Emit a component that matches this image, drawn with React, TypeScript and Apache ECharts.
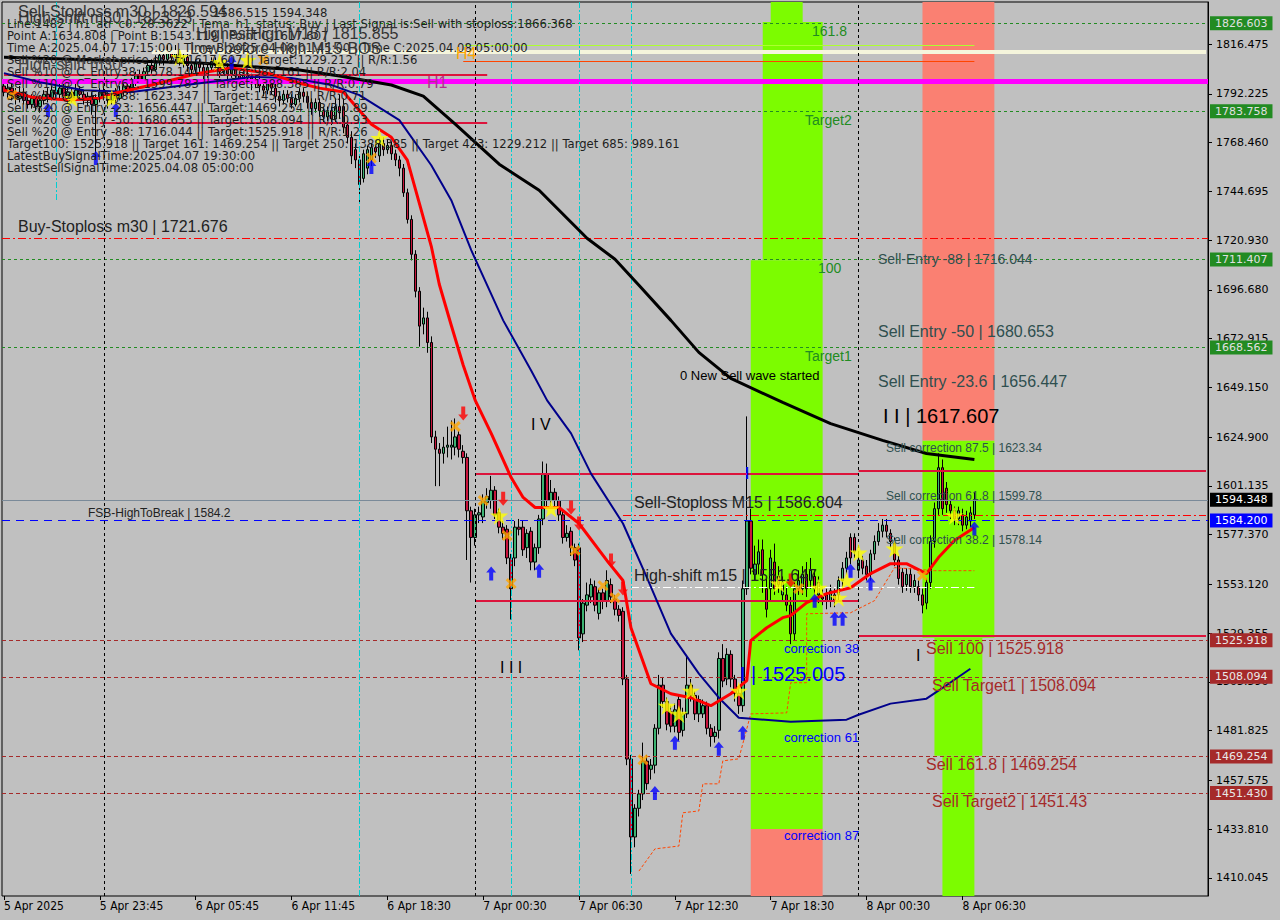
import React, { useEffect, useRef } from 'react';
import * as echarts from 'echarts';

const Y_MIN = 1401.24;
const Y_MAX = 1836.97;
const Y_TICKS = [1816.475, 1792.225, 1768.46, 1744.695, 1720.93, 1696.68, 1672.915, 1649.15, 1624.9, 1601.135, 1577.37, 1553.12, 1529.355, 1505.59, 1481.825, 1457.575, 1433.81, 1410.045];
const BAR_SLOTS = 302;
const X_TICK_INDEX = [0, 24, 48, 72, 96, 120, 144, 168, 192, 216, 240];
const X_TICK_LABELS = ['5 Apr 2025', '5 Apr 23:45', '6 Apr 05:45', '6 Apr 11:45', '6 Apr 18:30', '7 Apr 00:30', '7 Apr 06:30', '7 Apr 12:30', '7 Apr 18:30', '8 Apr 00:30', '8 Apr 06:30'];

// [open, close, low, high]
const CANDLES = [
[1796,1793,1791,1799],[1793,1795,1790,1798],[1795,1792,1789,1797],[1792,1790,1787,1795],[1790,1793,1788,1796],
[1793,1789,1787,1795],[1789,1787,1785,1792],[1787,1790,1785,1792],[1790,1786,1784,1791],[1786,1789,1783,1791],
[1789,1792,1787,1794],[1792,1790,1788,1795],[1790,1794,1789,1796],[1794,1792,1790,1797],[1792,1795,1790,1797],
[1795,1791,1789,1797],[1791,1793,1788,1796],[1793,1790,1788,1795],[1790,1794,1789,1797],[1794,1792,1790,1796],
[1792,1789,1787,1794],[1789,1791,1786,1793],[1791,1787,1782,1793],[1787,1790,1761,1792],[1790,1793,1788,1795],
[1793,1791,1789,1796],[1791,1789,1785,1793],[1789,1792,1787,1794],[1792,1790,1788,1795],[1790,1793,1789,1796],
[1793,1796,1791,1798],[1796,1794,1792,1799],[1794,1798,1793,1800],[1798,1801,1796,1803],[1801,1799,1797,1804],
[1799,1803,1798,1805],[1803,1806,1801,1808],[1806,1804,1802,1809],[1804,1808,1803,1811],[1808,1811,1806,1813],
[1811,1809,1806,1814],[1809,1813,1808,1816],[1813,1810,1807,1815],[1810,1812,1808,1816],[1812,1808,1806,1814],
[1808,1810,1805,1812],[1810,1806,1803,1812],[1806,1804,1801,1808],[1804,1807,1802,1809],[1807,1805,1802,1809],
[1805,1802,1799,1807],[1802,1805,1800,1807],[1805,1808,1803,1810],[1808,1806,1803,1810],[1806,1803,1800,1808],
[1803,1805,1801,1807],[1805,1802,1799,1807],[1802,1804,1800,1806],[1804,1801,1798,1806],[1801,1799,1796,1803],
[1799,1802,1797,1804],[1802,1800,1797,1804],[1800,1797,1794,1802],[1797,1799,1795,1801],[1799,1796,1793,1801],
[1796,1794,1791,1798],[1794,1797,1792,1799],[1797,1795,1792,1799],[1795,1791,1788,1797],[1791,1789,1786,1793],
[1789,1792,1787,1794],[1792,1790,1788,1794],[1790,1787,1785,1792],[1787,1790,1786,1792],[1790,1793,1788,1795],
[1793,1791,1788,1795],[1791,1788,1785,1793],[1788,1785,1782,1790],[1785,1788,1783,1790],[1788,1784,1781,1790],
[1784,1781,1778,1786],[1781,1784,1779,1786],[1784,1780,1777,1786],[1780,1786,1778,1790],[1786,1783,1780,1792],
[1786,1776,1773,1790],[1777,1771,1768,1779],[1771,1762,1758,1774],[1765,1760,1756,1768],[1760,1748,1739,1762],
[1751,1763,1749,1765],[1756,1765,1753,1767],[1760,1766,1757,1768],[1766,1764,1761,1769],[1762,1768,1759,1771],
[1768,1765,1762,1771],[1765,1767,1763,1770],[1767,1763,1760,1769],[1763,1760,1757,1765],[1760,1756,1752,1762],
[1756,1744,1742,1758],[1744,1731,1729,1746],[1731,1714,1711,1733],[1714,1696,1693,1716],[1696,1679,1669,1698],
[1680,1683,1675,1688],[1683,1671,1666,1686],[1671,1625,1622,1674],[1625,1619,1601,1628],[1619,1617,1601,1622],
[1617,1620,1612,1625],[1620,1621,1615,1630],[1620,1621,1614,1633],[1620,1625,1616,1634],[1626,1619,1615,1628],
[1618,1615,1612,1621],[1615,1589,1565,1617],[1589,1576,1554,1591],[1576,1587,1572,1590],[1587,1588,1583,1591],
[1586,1594,1583,1597],[1593,1596,1590,1600],[1594,1599,1590,1606],[1599,1587,1585,1601],[1588,1581,1578,1590],
[1581,1578,1575,1584],[1580,1566,1563,1582],[1566,1551,1536,1568],[1566,1581,1562,1584],[1581,1580,1577,1585],
[1581,1570,1567,1584],[1571,1578,1566,1580],[1579,1564,1560,1581],[1564,1571,1560,1573],[1571,1585,1568,1587],
[1585,1607,1582,1613],[1607,1594,1590,1612],[1594,1598,1590,1604],[1598,1594,1590,1600],[1594,1587,1584,1596],
[1587,1576,1573,1589],[1576,1578,1574,1582],[1579,1571,1567,1581],[1571,1565,1562,1573],[1571,1527,1521,1573],
[1529,1544,1525,1546],[1543,1548,1540,1554],[1547,1553,1544,1556],[1552,1543,1540,1555],[1539,1549,1536,1551],
[1549,1545,1541,1551],[1545,1555,1542,1560],[1553,1547,1544,1556],[1546,1541,1538,1548],[1541,1538,1535,1543],
[1540,1507,1504,1542],[1507,1468,1465,1509],[1468,1430,1412,1470],[1430,1444,1425,1446],[1444,1451,1440,1453],
[1451,1467,1448,1476],[1467,1456,1453,1470],[1463,1465,1458,1468],[1465,1483,1461,1485],[1483,1504,1480,1509],
[1504,1496,1493,1508],[1496,1485,1482,1498],[1491,1484,1481,1494],[1484,1492,1481,1495],[1497,1481,1477,1499],
[1482,1490,1479,1493],[1490,1504,1488,1518],[1504,1499,1496,1507],[1499,1490,1487,1501],[1490,1497,1486,1499],
[1490,1494,1488,1497],[1494,1483,1480,1496],[1483,1479,1474,1485],[1479,1481,1476,1484],[1482,1517,1478,1520],
[1517,1506,1503,1524],[1507,1519,1504,1522],[1519,1507,1503,1521],[1507,1500,1496,1509],[1500,1494,1490,1502],
[1494,1551,1491,1555],[1551,1584,1548,1635],[1584,1561,1558,1590],[1558,1563,1555,1572],[1563,1569,1558,1575],
[1570,1558,1549,1575],[1551,1541,1537,1556],[1551,1566,1545,1570],[1564,1551,1548,1573],[1557,1553,1549,1562],
[1548,1554,1545,1557],[1548,1543,1540,1552],[1543,1529,1524,1547],[1529,1551,1526,1554],[1551,1555,1548,1560],
[1551,1558,1548,1562],[1558,1551,1547,1564],[1555,1560,1551,1566],[1557,1551,1548,1560],[1548,1554,1544,1557],
[1547,1546,1543,1551],[1548,1545,1541,1551],[1545,1550,1542,1553],[1548,1545,1542,1551],[1548,1555,1545,1557],
[1555,1561,1552,1564],[1561,1566,1558,1569],[1576,1566,1563,1578],[1576,1569,1566,1578],[1560,1565,1557,1568],
[1565,1561,1558,1567],[1562,1558,1555,1565],[1558,1568,1555,1570],[1568,1574,1565,1577],[1574,1579,1572,1583],
[1579,1582,1576,1585],[1582,1579,1576,1585],[1578,1574,1571,1580],[1573,1565,1562,1576],[1565,1556,1553,1567],
[1559,1552,1549,1561],[1553,1558,1550,1561],[1558,1552,1549,1561],[1552,1555,1549,1558],[1552,1548,1545,1555],
[1548,1543,1539,1551],[1544,1554,1541,1556],[1554,1574,1551,1577],[1574,1590,1571,1593],[1590,1610,1587,1617],
[1610,1590,1587,1614],[1600,1592,1588,1603],[1592,1589,1585,1594],[1589,1585,1582,1591],[1585,1589,1582,1591],
[1587,1582,1579,1590],[1582,1586,1580,1589],[1584,1588,1581,1591],[1587,1594.348,1585,1598]
];

const RED_MA = [[0,1794.0],[7,1790.6],[16,1789.2],[24,1790.1],[28,1792.6],[37,1796.5],[49,1802.3],[57,1804.8],[66,1802.3],[74,1797.4],[79,1795.0],[85,1793.1],[92,1777.4],[97,1771.0],[101,1759.9],[104,1738.9],[107,1717.9],[109,1699.4],[112,1679.4],[115,1659.9],[118,1642.8],[122,1626.7],[127,1605.2],[130,1595.5],[133,1590.6],[139,1590.6],[144,1582.8],[151,1564.7],[155,1555.0],[157,1532.0],[162,1504.7],[167,1499.8],[172,1497.9],[177,1494.0],[182,1499.8],[186,1506.2],[187,1525.7],[191,1532.0],[195,1536.9],[197,1537.9],[201,1544.2],[206,1548.6],[212,1551.5],[217,1558.4],[222,1563.2],[226,1563.2],[231,1558.4],[234,1566.2],[238,1574.5],[243,1580.8]];
const NAVY_MA = [[0,1802.3],[9,1797.9],[20,1794.0],[32,1793.1],[49,1797.4],[62,1800.4],[72,1799.9],[82,1796.5],[89,1791.6],[99,1779.4],[107,1757.4],[112,1740.4],[117,1716.0],[125,1681.8],[132,1657.4],[136,1642.8],[142,1626.7],[147,1607.1],[155,1582.8],[161,1556.4],[167,1529.1],[174,1509.6],[179,1497.9],[184,1488.1],[197,1486.2],[211,1487.2],[214,1489.6],[222,1495.0],[231,1497.4],[234,1501.3],[242,1512.0]];
const BLACK_MA = [[0,1810.1],[24,1808.7],[49,1807.2],[74,1803.8],[84,1800.9],[97,1796.5],[105,1791.1],[113,1777.4],[124,1757.9],[134,1745.2],[146,1721.8],[153,1711.6],[159,1698.9],[167,1681.8],[174,1666.2],[182,1653.5],[195,1641.8],[207,1631.5],[220,1623.3],[231,1616.9],[243,1614.0]];
const ORANGE_TRAIL = [[159,1413.4],[163,1424.2],[169,1425.6],[170,1441.8],[174,1442.7],[175,1455.9],[179,1455.9],[180,1467.1],[184,1468.1],[187,1490.0],[196,1490.5],[197,1505.2],[201,1505.2],[201,1538.8],[212,1539.3],[218,1545.2],[223,1561.3],[233,1559.8],[243,1559.8]];

const STARS = [[17,1790.1],[27,1790.1],[44,1810.1],[54,1807.7],[61,1808.7],[94,1770.6],[124,1586.6],[137,1590.1],[166,1493.9],[169,1490.0],[172,1501.3],[184,1501.3],[194,1553.5],[204,1551.5],[209,1546.6],[211,1555.0],[214,1568.6],[223,1570.6],[238,1586.6]];
const CROSSES = [[2,1791.6],[65,1808.7],[92,1760.9],[113,1630.1],[120,1594.0],[126,1576.9],[127,1553.5],[143,1569.6],[150,1552.5],[153,1546.6],[160,1467.6],[199,1551.1],[230,1557.4]];
const UP_ARROWS = [[11,1784.3],[23,1760.9],[28,1784.3],[57,1807.2],[92,1756.5],[122,1558.4],[134,1559.8],[163,1451.5],[168,1475.9],[179,1473.0],[185,1480.8],[203,1545.2],[208,1536.4],[210,1536.4],[212,1559.8],[217,1553.5],[243,1580.3]];
const DOWN_ARROWS = [[115,1636.4],[125,1594.9],[142,1590.6],[144,1582.8],[152,1564.7],[155,1551.1],[197,1555.0]];

const GREEN_LEVELS = [1826.603, 1783.758, 1711.407, 1668.562];
const TARGET_LEVELS = [1525.918, 1508.094, 1469.254, 1451.43];
const CURRENT_PRICE = 1594.348;
const FSB_LEVEL = 1584.2;
const BUY_STOPLOSS_M30 = 1721.676;
const SELL_STOPLOSS_M15 = 1586.804;
const HIGH_SHIFT_M15 = 1551.647;
const MAGENTA_LEVEL = 1798.4;
// [fromBar, toBar, price]
const RED_SEGMENTS = [[0,121,1801.4],[24,121,1777.9],[118,214,1607.1],[214,301,1608.6],[118,214,1545.2],[214,301,1528.1]];
const CREAM_SEGMENT = [37, 301, 1812.6];
const HIGHEST_HIGH_SEGMENT = [115, 243, 1815.855];
const ORANGE_SEGMENT = [115, 243, 1808.2];
const DAY_SEPARATORS = [25, 118, 214];
const CYAN_MARKERS = [89, 127, 144, 157];
// [fromBar, toBar, top, bottom]
const GREEN_ZONES = [[192,200,1836.97,1827.2],[190,205,1827.2,1711.1],[187,205,1711.1,1433.9],[230,248,1623.3,1527.1],[233,245,1527.1,1469.6],[235,243,1469.6,1401.24]];
const SALMON_ZONES = [[187,205,1433.9,1401.24],[230,248,1836.97,1623.3]];

const COMMENT_LINES = [
  'Line:1482 | h1_atr_c0: 28.3622 | Tema_h1_status: Buy | Last Signal is:Sell with stoploss:1866.368',
  'Point A:1634.808 | Point B:1543.119 | Point C:1617.607',
  'Time A:2025.04.07 17:15:00 | Time B:2025.04.08 01:45:00 | Time C:2025.04.08 05:00:00',
  'Sell %20 @ Market price or at: 1617.607 || Target:1229.212 || R/R:1.56',
  'Sell %10 @ C_Entry38: 1578.144 || Target:989.161 || R/R:2.04',
  'Sell %10 @ C_Entry61: 1599.783 || Target:1388.385 || R/R:0.79',
  'Sell %10 @ C_Entry88: 1623.347 || Target:1451.43 || R/R:0.71',
  'Sell %20 @ Entry -23: 1656.447 || Target:1469.254 || R/R:0.89',
  'Sell %20 @ Entry -50: 1680.653 || Target:1508.094 || R/R:0.93',
  'Sell %20 @ Entry -88: 1716.044 || Target:1525.918 || R/R:1.26',
  'Target100: 1525.918 || Target 161: 1469.254 || Target 250: 1388.385 || Target 423: 1229.212 || Target 685: 989.161',
  'LatestBuySignalTime:2025.04.07 19:30:00',
  'LatestSellSignalTime:2025.04.08 05:00:00',
];

const FONT_LS = '"Liberation Sans", Arial, sans-serif';
const FONT_DV = '"DejaVu Sans", sans-serif';
const FONT_DVC = '"DejaVu Sans Condensed", "DejaVu Sans", sans-serif';

const STAR = 'path://M50,0 L61,35 L98,35 L68,57 L79,91 L50,70 L21,91 L32,57 L2,35 L39,35 Z';
const UP = 'path://M5,0 L10,6 L7,6 L7,14 L3,14 L3,6 L0,6 Z';
const DOWN = 'path://M3,0 L7,0 L7,8 L10,8 L5,14 L0,8 L3,8 Z';
const CROSS = 'path://M0,2 L2,0 L5,3 L8,0 L10,2 L7,5 L10,8 L8,10 L5,7 L2,10 L0,8 L3,5 Z';

function txt(x: number, y: number, text: string, size: number, color: string, family = FONT_LS) {
  return {
    type: 'text', x, y, z: 100, silent: true,
    style: { text, fill: color, font: `${size}px ${family}`, align: 'left', verticalAlign: 'middle', textAlign: 'left', textVerticalAlign: 'middle' },
  };
}

function seg(i0: number, i1: number, v: number, lineStyle: any) {
  return [{ coord: [i0, v], lineStyle }, { coord: [i1, v] }];
}

function boxLabel(text: string, bg: string, fg: string) {
  return { show: true, position: 'end', formatter: text, backgroundColor: bg, color: fg, padding: [2, 5, 1, 5], fontSize: 11, fontFamily: FONT_DV, distance: 2 };
}

export default function App() {
  const ref = useRef<HTMLDivElement>(null);
  useEffect(() => {
    document.body.style.margin = '0';
    const chart = echarts.init(ref.current!, null, { renderer: 'svg' });
    const cats = Array.from({ length: BAR_SLOTS }, (_, i) => String(i));
    const tickSet = new Set(X_TICK_INDEX);
    const labelOf = (i: number) => X_TICK_LABELS[X_TICK_INDEX.indexOf(i)] ?? '';

    const greenDash = { color: '#228b22', type: [3, 3], width: 1 };
    const redDash = { color: '#a52a2a', type: [4, 3], width: 1 };
    const dashDot = { color: '#ff0000', type: [8, 3, 2, 3], width: 1 };

    const levelLines: any[] = [];
    GREEN_LEVELS.forEach((v) => levelLines.push({ yAxis: v, lineStyle: greenDash, label: boxLabel(v.toFixed(3), '#228b22', '#e0e0e0') }));
    TARGET_LEVELS.forEach((v) => levelLines.push({ yAxis: v, lineStyle: redDash, label: boxLabel(v.toFixed(3), '#a52a2a', '#e8e8e8') }));
    levelLines.push({ yAxis: BUY_STOPLOSS_M30, lineStyle: dashDot });
    levelLines.push({ yAxis: MAGENTA_LEVEL, lineStyle: { color: '#ff00ff', width: 5, type: 'solid' } });
    levelLines.push({ yAxis: CURRENT_PRICE, lineStyle: { color: '#7a8a99', width: 1, type: 'solid' }, label: boxLabel(CURRENT_PRICE.toFixed(3), '#000000', '#ffffff') });
    levelLines.push({ yAxis: FSB_LEVEL, lineStyle: { color: '#0000ff', width: 1, type: [8, 6] }, label: boxLabel(FSB_LEVEL.toFixed(3), '#0000ff', '#ffffff') });
    levelLines.push(seg(155, 301, SELL_STOPLOSS_M15, dashDot));
    levelLines.push(seg(157, 243, HIGH_SHIFT_M15, { color: '#ffffff', width: 1, type: [8, 3, 2, 3] }));
    levelLines.push(seg(CREAM_SEGMENT[0], CREAM_SEGMENT[1], CREAM_SEGMENT[2], { color: '#f5f5dc', width: 4, type: 'solid' }));
    levelLines.push(seg(HIGHEST_HIGH_SEGMENT[0], HIGHEST_HIGH_SEGMENT[1], HIGHEST_HIGH_SEGMENT[2], { color: '#adff2f', width: 1, type: 'solid' }));
    levelLines.push(seg(ORANGE_SEGMENT[0], ORANGE_SEGMENT[1], ORANGE_SEGMENT[2], { color: '#ff4500', width: 1, type: 'solid' }));
    RED_SEGMENTS.forEach(([a, b, v]) => levelLines.push(seg(a, b, v, { color: '#dc143c', width: 2, type: 'solid' })));
    DAY_SEPARATORS.forEach((i) => levelLines.push({ xAxis: i, lineStyle: { color: '#000', type: [3, 3], width: 1 } }));
    CYAN_MARKERS.forEach((i) => levelLines.push({ xAxis: i, lineStyle: { color: '#00ced1', type: [6, 2, 2, 2], width: 1 } }));
    levelLines.push([{ coord: [13, Y_MAX], lineStyle: { color: '#00ced1', type: [6, 2, 2, 2], width: 1 } }, { coord: [13, 1740] }]);

    const zones: any[] = [];
    GREEN_ZONES.forEach(([a, b, t, btm]) => zones.push([{ coord: [a, t], itemStyle: { color: '#7cfc00' } }, { coord: [b, btm] }]));
    SALMON_ZONES.forEach(([a, b, t, btm]) => zones.push([{ coord: [a, t], itemStyle: { color: '#fa8072' } }, { coord: [b, btm] }]));

    const graphics: any[] = [];
    COMMENT_LINES.forEach((l, k) => graphics.push(txt(7, 24 + k * 12, l, 11.6, '#1e1e1e', FONT_DV)));
    graphics.push(
      txt(18, 11, 'Sell-Stoploss m30 | 1826.594', 16, '#333'),
      txt(18, 17, 'High-shift m30 | 1823.13', 16, '#333'),
      txt(213, 13, '1586.515 1594.348', 11.6, '#1e1e1e', FONT_DV),
      txt(196, 33, 'HighestHigh M15 | 1815.855', 16, '#333'),
      txt(190, 48, 'Low before High M15-BOS', 16, '#333'),
      txt(18, 64, 'High-shift m30', 16, '#444'),
      txt(427, 82, 'H1', 16, '#b0308f'),
      txt(456, 53, 'H4', 16, '#ffa500'),
      txt(18, 226, 'Buy-Stoploss m30 | 1721.676', 16, '#222'),
      txt(88, 513, 'FSB-HighToBreak | 1584.2', 12, '#222'),
      txt(634, 502, 'Sell-Stoploss M15 | 1586.804', 16, '#222'),
      txt(634, 575, 'High-shift m15 | 1551.647', 16, '#222'),
      txt(680, 375, '0 New Sell wave started', 13, '#000'),
      txt(531, 424, 'I V', 16, '#000'),
      txt(500, 667, 'I I I', 16, '#000'),
      txt(883, 416, 'I I | 1617.607', 20, '#000'),
      txt(740, 674, 'I | 1525.005', 20, '#0000ff'),
      txt(745, 473, 'I', 16, '#0000ff'),
      txt(916, 655, 'I', 16, '#000'),
      txt(878, 259, 'Sell-Entry -88 | 1716.044', 14, '#2f4f4f'),
      txt(878, 331, 'Sell Entry -50 | 1680.653', 16, '#2f4f4f'),
      txt(878, 381, 'Sell Entry -23.6 | 1656.447', 16, '#2f4f4f'),
      txt(886, 448, 'Sell correction 87.5 | 1623.34', 12, '#2f4f4f'),
      txt(886, 496, 'Sell correction 61.8 | 1599.78', 12, '#2f4f4f'),
      txt(886, 540, 'Sell correction 38.2 | 1578.14', 12, '#2f4f4f'),
      txt(926, 648, 'Sell 100 | 1525.918', 16, '#a52a2a'),
      txt(932, 685, 'Sell Target1 | 1508.094', 16, '#a52a2a'),
      txt(926, 764, 'Sell 161.8 | 1469.254', 16, '#a52a2a'),
      txt(932, 801, 'Sell Target2 | 1451.43', 16, '#a52a2a'),
      txt(812, 31, '161.8', 14, '#228b22'),
      txt(805, 120, 'Target2', 14, '#228b22'),
      txt(818, 268, '100', 14, '#228b22'),
      txt(805, 356, 'Target1', 14, '#228b22'),
      txt(784, 648, 'correction 38', 13, '#0000ff'),
      txt(784, 737, 'correction 61', 13, '#0000ff'),
      txt(784, 835, 'correction 87', 13, '#0000ff'),
    );

    const option: any = {
      animation: false,
      backgroundColor: '#c0c0c0',
      textStyle: { fontFamily: FONT_DV },
      grid: { left: 2, right: 72, top: 2, bottom: 24, show: true, borderColor: '#000', borderWidth: 1 },
      xAxis: {
        type: 'category', data: cats, boundaryGap: true,
        axisLine: { show: false },
        axisTick: { show: true, alignWithLabel: true, interval: (i: number) => tickSet.has(i), length: 4, lineStyle: { color: '#000' } },
        axisLabel: { interval: (i: number) => tickSet.has(i), formatter: (_v: string, i: number) => labelOf(i), align: 'left', color: '#000', fontFamily: FONT_DVC, fontSize: 12, margin: 4 },
        splitLine: { show: false },
      },
      yAxis: {
        type: 'value', position: 'right', min: Y_MIN, max: Y_MAX, scale: true,
        axisLine: { show: true, lineStyle: { color: '#000' } },
        axisTick: { show: true, customValues: Y_TICKS, length: 4, lineStyle: { color: '#000' } },
        axisLabel: { customValues: Y_TICKS, formatter: (v: number) => v.toFixed(3), color: '#000', fontFamily: FONT_DV, fontSize: 11, margin: 8 },
        splitLine: { show: false },
      },
      graphic: graphics,
      series: [
        { type: 'line', data: [], z: 1, silent: true, markArea: { silent: true, data: zones } },
        {
          type: 'candlestick', data: CANDLES, barWidth: 3, z: 3,
          itemStyle: { color: '#3cb371', color0: '#c8143c', borderColor: '#000', borderColor0: '#000', borderWidth: 1 },
        },
        { type: 'line', data: [], z: 4, silent: true, markLine: { silent: true, symbol: ['none', 'none'], label: { show: false }, data: levelLines } },
        { type: 'line', data: ORANGE_TRAIL, z: 4, showSymbol: false, lineStyle: { color: '#ff4500', width: 1, type: [3, 2] } },
        { type: 'line', data: BLACK_MA, z: 5, showSymbol: false, lineStyle: { color: '#000', width: 3 } },
        { type: 'line', data: NAVY_MA, z: 5, showSymbol: false, lineStyle: { color: '#00008b', width: 2 } },
        { type: 'line', data: RED_MA, z: 5, showSymbol: false, lineStyle: { color: '#ff0000', width: 3 } },
        { type: 'scatter', data: STARS, symbol: STAR, symbolSize: 18, z: 6, itemStyle: { color: '#ffff00' } },
        { type: 'scatter', data: CROSSES, symbol: CROSS, symbolSize: 11, z: 6, itemStyle: { color: '#ffa500' } },
        { type: 'scatter', data: UP_ARROWS, symbol: UP, symbolSize: [10, 14], z: 6, itemStyle: { color: '#0000ff' } },
        { type: 'scatter', data: DOWN_ARROWS, symbol: DOWN, symbolSize: [10, 14], z: 6, itemStyle: { color: '#ff0000' } },
      ],
    };
    chart.setOption(option);
    return () => chart.dispose();
  }, []);
  return <div ref={ref} style={{ width: 1280, height: 920, background: '#c0c0c0' }} />;
}
